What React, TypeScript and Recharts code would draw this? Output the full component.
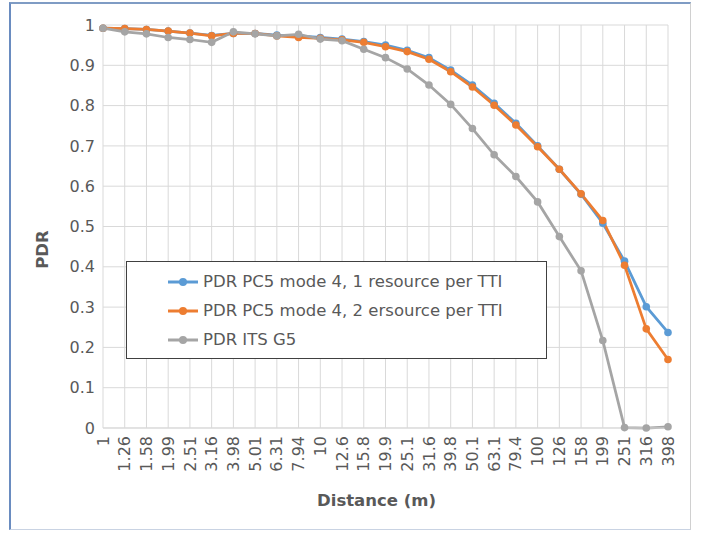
import React from "react";
import { LineChart, Line, XAxis, YAxis, CartesianGrid, Legend } from "recharts";

const distances = [
  "1", "1.26", "1.58", "1.99", "2.51", "3.16", "3.98", "5.01", "6.31", "7.94",
  "10", "12.6", "15.8", "19.9", "25.1", "31.6", "39.8", "50.1", "63.1", "79.4",
  "100", "126", "158", "199", "251", "316", "398",
];

const pdrPc5OneRes = [
  0.992, 0.991, 0.989, 0.985, 0.98, 0.974, 0.979, 0.979, 0.975, 0.973,
  0.969, 0.965, 0.959, 0.95, 0.937, 0.919, 0.888, 0.851, 0.806, 0.756,
  0.7, 0.642, 0.58, 0.508, 0.414, 0.301, 0.237,
];

const pdrPc5TwoRes = [
  0.992, 0.991, 0.989, 0.985, 0.98, 0.973, 0.979, 0.979, 0.973, 0.969,
  0.967, 0.963, 0.957, 0.946, 0.934, 0.915, 0.884, 0.846, 0.801, 0.752,
  0.698, 0.642, 0.581, 0.515, 0.404, 0.246, 0.17,
];

const pdrItsG5 = [
  0.992, 0.983, 0.978, 0.969, 0.964, 0.957, 0.983, 0.978, 0.973, 0.977,
  0.965, 0.961, 0.94, 0.919, 0.891, 0.851, 0.803, 0.743, 0.678, 0.624,
  0.561, 0.475, 0.39, 0.217, 0.001, 0, 0.003,
];

const yTicks = [0, 0.1, 0.2, 0.3, 0.4, 0.5, 0.6, 0.7, 0.8, 0.9, 1];

const series = [
  { key: "pc5One", name: "PDR PC5 mode 4, 1 resource per TTI", color: "#5B9BD5" },
  { key: "pc5Two", name: "PDR PC5 mode 4, 2 ersource per TTI", color: "#ED7D31" },
  { key: "itsG5", name: "PDR ITS G5", color: "#A5A5A5" },
];

const data = distances.map((d, i) => ({
  distance: d,
  pc5One: pdrPc5OneRes[i],
  pc5Two: pdrPc5TwoRes[i],
  itsG5: pdrItsG5[i],
}));

const FONT = "'DejaVu Sans', sans-serif";
const TEXT = "#595959";
const GRID = "#d9d9d9";

const DistanceTick = (props: any) => {
  const { x, y, payload } = props;
  return (
    <text
      x={x}
      y={y}
      transform={`rotate(-90 ${x} ${y})`}
      textAnchor="end"
      dy="0.35em"
      fill={TEXT}
      fontSize={16}
      fontFamily={FONT}
    >
      {payload.value}
    </text>
  );
};

const LegendBox = () => (
  <div
    style={{
      width: 421,
      height: 98,
      border: "1px solid #404040",
      background: "#fff",
      boxSizing: "border-box",
      paddingTop: 5,
    }}
  >
    {series.map((s) => (
      <div key={s.key} style={{ display: "flex", alignItems: "center", height: 29 }}>
        <svg width={76} height={12} style={{ flex: "none" }}>
          <line x1={41} y1={6} x2={71} y2={6} stroke={s.color} strokeWidth={3} />
          <circle cx={56} cy={6} r={4} fill={s.color} />
        </svg>
        <span style={{ fontFamily: FONT, fontSize: 16.5, color: TEXT, whiteSpace: "nowrap" }}>
          {s.name}
        </span>
      </div>
    ))}
  </div>
);

export default function App() {
  return (
    <div style={{ position: "absolute", left: 0, top: 0, width: 701, height: 533, background: "#fff" }}>
      <div
        style={{
          position: "absolute",
          left: 9,
          top: 2,
          width: 682,
          height: 528,
          borderTop: "2px solid #7f9cc4",
          borderLeft: "2px solid #6a8cc0",
          borderRight: "1px solid #d0d0d0",
          borderBottom: "1px solid #c9d3e3",
          boxSizing: "border-box",
        }}
      />
      <LineChart
        width={701}
        height={533}
        data={data}
        margin={{ top: 25, right: 33, left: 0, bottom: 0 }}
        style={{ position: "absolute", left: 0, top: 0 }}
      >
        <CartesianGrid stroke={GRID} />
        <XAxis
          dataKey="distance"
          interval={0}
          height={105}
          tick={DistanceTick}
          tickLine={false}
          axisLine={{ stroke: GRID }}
          label={{
            content: (p: any) => {
              const vb = p.viewBox;
              return (
                <text
                  x={vb.x + vb.width / 2 - 9}
                  y={vb.y + 78}
                  textAnchor="middle"
                  fill={TEXT}
                  fontSize={16.5}
                  fontWeight="bold"
                  fontFamily={FONT}
                >
                  Distance (m)
                </text>
              );
            },
          }}
        />
        <YAxis
          width={103}
          domain={[0, 1]}
          ticks={yTicks}
          tickFormatter={(v: number) => String(v)}
          tickLine={false}
          axisLine={false}
          tick={{ fill: TEXT, fontSize: 16, fontFamily: FONT }}
          label={{
            content: (p: any) => {
              const vb = p.viewBox;
              const cx = vb.x + 42;
              const cy = vb.y + vb.height / 2 + 23;
              return (
                <text
                  x={cx}
                  y={cy}
                  transform={`rotate(-90 ${cx} ${cy})`}
                  textAnchor="middle"
                  dy="0.35em"
                  fill={TEXT}
                  fontSize={16.5}
                  fontWeight="bold"
                  fontFamily={FONT}
                >
                  PDR
                </text>
              );
            },
          }}
        />
        <Legend
          layout="horizontal"
          verticalAlign="middle"
          align="center"
          content={() => <LegendBox />}
          wrapperStyle={{ left: 126, top: 261, width: 421, height: 98 }}
        />
        {series.map((s) => (
          <Line
            key={s.key}
            type="linear"
            dataKey={s.key}
            name={s.name}
            stroke={s.color}
            strokeWidth={2.75}
            dot={{ r: 3.8, fill: s.color, stroke: s.color, strokeWidth: 0 }}
            activeDot={false}
            isAnimationActive={false}
          />
        ))}
      </LineChart>
    </div>
  );
}
